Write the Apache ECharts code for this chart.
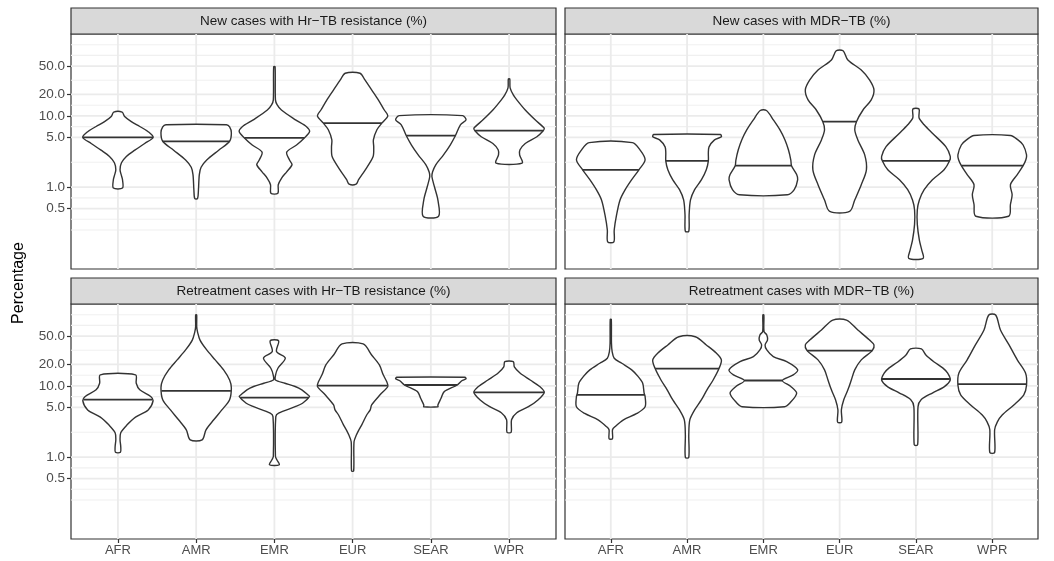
<!DOCTYPE html>
<html>
<head>
<meta charset="utf-8">
<script src="https://cdn.jsdelivr.net/npm/echarts@6/dist/echarts.min.js"></script>
<style>
  html, body { margin: 0; padding: 0; background: #fff; }
  #chart { width: 1054px; height: 561px; }
</style>
</head>
<body>
<div id="chart"></div>
<script>
// categories and facet titles
var regions = ['AFR', 'AMR', 'EMR', 'EUR', 'SEAR', 'WPR'];
var panelTitles = [
    'New cases with Hr\u2212TB resistance (%)',
    'New cases with MDR\u2212TB (%)',
    'Retreatment cases with Hr\u2212TB resistance (%)',
    'Retreatment cases with MDR\u2212TB (%)'
];
var tickValues = [0.5, 1, 5, 10, 20, 50];
var minorValues = [0.25, 0.354, 0.707, 2.236, 7.07, 14.14, 31.6, 70.7, 100];

// violin outlines: [percentage, relative half width], top to bottom
var hrNewShapes = [
    [[11.3,0.12],[9.8,0.19],[8.3,0.38],[7.1,0.62],[6.0,0.86],[5.0,1.0],[4.1,0.76],[3.3,0.48],[2.7,0.24],[2.2,0.1],[1.75,0.06],[1.45,0.1],[1.27,0.13],[0.97,0.13]],
    [[7.5,0.86],[7.0,0.95],[5.8,1.0],[4.4,0.95],[3.3,0.64],[2.4,0.3],[1.9,0.14],[1.5,0.09],[0.92,0.065],[0.69,0.04]],
    [[49,0.02],[16.8,0.03],[14.3,0.08],[12.1,0.2],[8.8,0.6],[7.0,0.92],[6.0,1.0],[4.9,0.85],[3.9,0.63],[3.1,0.35],[2.4,0.43],[2.06,0.5],[1.64,0.35],[1.35,0.21],[1.08,0.11],[0.82,0.1]],
    [[39.7,0.21],[32,0.35],[23.2,0.54],[16.8,0.73],[12.1,0.9],[10,1.0],[7.9,0.83],[6.4,0.69],[4.6,0.59],[3.65,0.6],[2.66,0.58],[1.75,0.36],[1.27,0.17],[1.1,0.1]],
    [[10.1,0.9],[8.8,1.0],[7.5,0.84],[5.3,0.7],[3.9,0.55],[2.84,0.36],[2.06,0.14],[1.64,0.05],[1.41,0.03],[1.02,0.1],[0.66,0.2],[0.39,0.22]],
    [[33,0.02],[24.7,0.03],[19.7,0.12],[16.8,0.22],[12.1,0.46],[8.8,0.74],[6.7,1.0],[6.2,0.97],[5.1,0.79],[4.1,0.46],[3.34,0.31],[2.84,0.3],[2.17,0.37]]
];
var hrNewMedians = [5.0, 4.4, 4.9, 7.9, 5.3, 6.2];

var mdrNewShapes = [
    [[4.22,0.63],[3.34,0.85],[2.42,1.0],[1.75,0.82],[1.27,0.61],[0.92,0.42],[0.66,0.27],[0.41,0.17],[0.25,0.1],[0.17,0.09]],
    [[5.47,0.97],[5.1,1.0],[4.6,0.8],[3.67,0.64],[3.03,0.62],[2.34,0.62],[1.75,0.56],[1.27,0.42],[0.92,0.22],[0.66,0.1],[0.41,0.06],[0.24,0.05]],
    [[11.9,0.09],[8.8,0.29],[6.4,0.48],[4.6,0.63],[3.34,0.73],[2.4,0.8],[2.0,0.82],[1.5,0.97],[1.27,1.0],[0.92,0.9],[0.78,0.7]],
    [[82,0.1],[61,0.24],[44,0.63],[32,0.87],[23.2,1.0],[16.8,0.92],[12.1,0.68],[8.3,0.49],[6.4,0.44],[4.6,0.53],[2.84,0.73],[1.75,0.78],[1.08,0.63],[0.66,0.44],[0.455,0.29]],
    [[12.5,0.09],[9.4,0.09],[7.5,0.24],[5.7,0.48],[3.7,0.87],[2.7,1.0],[2.34,0.98],[1.75,0.82],[1.27,0.48],[0.92,0.24],[0.66,0.1],[0.48,0.04],[0.3,0.04],[0.18,0.1],[0.13,0.17],[0.1,0.21]],
    [[5.3,0.53],[4.6,0.75],[3.9,0.9],[2.84,1.0],[2.42,0.98],[2.0,0.9],[1.5,0.73],[1.08,0.53],[0.78,0.58],[0.57,0.53],[0.39,0.48]]
];
var mdrNewMedians = [1.75, 2.34, 2.0, 8.3, 2.34, 2.0];

var hrRetShapes = [
    [[14.3,0.5],[10.9,0.52],[8.8,0.62],[7.1,0.93],[6.2,1.0],[4.6,0.86],[3.65,0.5],[2.84,0.26],[2.2,0.08],[1.75,0.06],[1.4,0.08],[1.17,0.07]],
    [[99,0.015],[68,0.015],[57,0.04],[44,0.11],[32,0.3],[23.2,0.54],[16.8,0.78],[12.1,0.95],[9.4,1.0],[6.4,0.95],[4.6,0.73],[3.34,0.5],[2.42,0.28],[1.75,0.17]],
    [[43,0.12],[30.3,0.06],[24.5,0.31],[17.7,0.1],[14,0.03],[12.1,0.03],[10.9,0.3],[9.8,0.59],[8.8,0.78],[7.5,0.95],[7.1,1.0],[5.7,0.8],[5.1,0.59],[4.14,0.12],[3.7,0.04],[1.02,0.03],[0.92,0.07],[0.78,0.14]],
    [[38.8,0.3],[27.2,0.54],[19.7,0.76],[14.3,0.87],[11.4,0.97],[9.8,1.0],[7.5,0.78],[5.4,0.54],[4.6,0.5],[3.9,0.4],[2.84,0.26],[2.42,0.18],[2.06,0.11],[1.64,0.04],[0.64,0.03]],
    [[13.2,0.97],[12.6,1.0],[11.8,0.88],[10.3,0.75],[8.3,0.38],[6.7,0.29],[5.4,0.2],[5.1,0.2]],
    [[21.9,0.12],[18.5,0.15],[15.2,0.31],[12.1,0.6],[9.7,0.88],[8.1,1.0],[6.4,0.83],[5.1,0.55],[4.2,0.22],[3.34,0.07],[2.24,0.06]]
];
var hrRetMedians = [6.4, 8.5, 6.85, 10.1, 10.3, 8.1];

var mdrRetShapes = [
    [[86,0.015],[40,0.02],[30.3,0.04],[24.5,0.1],[20.8,0.32],[16.8,0.61],[13.5,0.8],[10.9,0.93],[8.0,0.97],[7.1,1.0],[5.1,1.0],[4.1,0.76],[3.34,0.37],[2.69,0.13],[2.42,0.05],[1.81,0.05]],
    [[49,0.24],[37.6,0.56],[29,0.85],[23.2,1.0],[17.5,0.93],[12.1,0.76],[8.8,0.58],[6.4,0.42],[4.6,0.22],[3.34,0.08],[2.06,0.05],[0.99,0.05]],
    [[99,0.015],[58,0.02],[52,0.1],[44,0.12],[37.6,0.05],[32,0.1],[25.8,0.29],[21.9,0.68],[16.8,1.0],[14.3,0.87],[11.9,0.55],[9.8,0.8],[7.9,0.97],[5.8,0.78],[5.1,0.62]],
    [[84,0.2],[61,0.53],[44,0.87],[37.6,1.0],[31.3,0.95],[23.2,0.63],[16.8,0.44],[12.1,0.34],[8.8,0.24],[6.4,0.12],[4.6,0.05],[3.1,0.06]],
    [[33,0.16],[27.2,0.29],[21.7,0.53],[17.9,0.78],[15.2,0.92],[12.1,1.0],[9.7,0.82],[8.0,0.49],[6.4,0.15],[5.07,0.06],[1.49,0.05]],
    [[99,0.1],[61,0.24],[37.6,0.49],[23.2,0.73],[15.2,0.97],[10.3,1.0],[7.5,0.92],[5.4,0.63],[3.9,0.29],[3.13,0.15],[2.42,0.07],[1.16,0.07]]
];
var mdrRetMedians = [7.5, 17.5, 11.9, 31.3, 12.5, 10.6];

var panelShapes = [hrNewShapes, mdrNewShapes, hrRetShapes, mdrRetShapes];
var panelMedians = [hrNewMedians, mdrNewMedians, hrRetMedians, mdrRetMedians];

// layout of the four facets
var panels = [
    { left: 71, top: 34, width: 485, height: 235 },
    { left: 565, top: 34, width: 473, height: 235 },
    { left: 71, top: 304, width: 485, height: 235 },
    { left: 565, top: 304, width: 473, height: 235 }
];
var HALF = 0.45;
var FONT = 'Liberation Sans, Arial, sans-serif';

function lg(v) { return Math.log(v) / Math.LN10; }

function widthAt(profile, v) {
    var y = lg(v);
    for (var i = 0; i < profile.length - 1; i++) {
        var a = lg(profile[i][0]), b = lg(profile[i + 1][0]);
        if (y <= a && y >= b) {
            var t = (a - y) / (a - b);
            return profile[i][1] + t * (profile[i + 1][1] - profile[i][1]);
        }
    }
    return 0;
}

function violinRender(shapes) {
    return function (params, api) {
        var i = api.value(0);
        var med = api.value(1);
        var prof = shapes[i - 1];
        var left = [], right = [];
        prof.forEach(function (p) {
            left.push(api.coord([i - p[1] * HALF, lg(p[0])]));
            right.push(api.coord([i + p[1] * HALF, lg(p[0])]));
        });
        var pts = left.concat(right.reverse());
        var mw = widthAt(prof, med);
        var a = api.coord([i - mw * HALF, lg(med)]);
        var b = api.coord([i + mw * HALF, lg(med)]);
        return {
            type: 'group',
            children: [{
                type: 'polygon',
                shape: { points: pts, smooth: 0.3 },
                style: { fill: '#ffffff', stroke: '#333333', lineWidth: 1.4 }
            }, {
                type: 'line',
                shape: { x1: a[0], y1: a[1], x2: b[0], y2: b[1] },
                style: { stroke: '#333333', lineWidth: 1.8 }
            }]
        };
    };
}

function gridRender(params, api) {
    var cs = params.coordSys;
    var kind = api.value(0);
    var v = api.value(1);
    if (kind === 2) {
        var px = api.coord([v, 0])[0];
        return { type: 'line', shape: { x1: px, y1: cs.y, x2: px, y2: cs.y + cs.height },
            style: { stroke: '#ebebeb', lineWidth: 1.8 } };
    }
    var py = api.coord([1, lg(v)])[1];
    return { type: 'line', shape: { x1: cs.x, y1: py, x2: cs.x + cs.width, y2: py },
        style: { stroke: kind === 1 ? '#ebebeb' : '#f0f0f0', lineWidth: kind === 1 ? 1.8 : 1.1 } };
}

var gridData = [];
minorValues.forEach(function (v) { gridData.push([0, v]); });
tickValues.forEach(function (v) { gridData.push([1, v]); });
regions.forEach(function (r, k) { gridData.push([2, k + 1]); });

var option = {
    animation: false,
    backgroundColor: '#ffffff',
    grid: [], xAxis: [], yAxis: [], series: [], graphic: []
};

panels.forEach(function (p, k) {
    var isLeft = (k % 2 === 0), isBottom = (k >= 2);
    option.grid.push({ left: p.left, top: p.top, width: p.width, height: p.height,
        show: true, borderColor: '#333333', borderWidth: 1.2, backgroundColor: 'transparent' });
    option.xAxis.push({
        gridIndex: k, type: 'value', min: 0.4, max: 6.6,
        axisLine: { show: false, onZero: false },
        splitLine: { show: false },
        axisTick: { show: isBottom, customValues: [1, 2, 3, 4, 5, 6], length: 4,
            lineStyle: { color: '#333333', width: 1.2 } },
        axisLabel: { show: isBottom, customValues: [1, 2, 3, 4, 5, 6], margin: 5,
            color: '#4d4d4d', fontSize: 13, fontFamily: FONT,
            formatter: function (v) { return regions[Math.round(v) - 1]; } }
    });
    option.yAxis.push({
        gridIndex: k, type: 'value', min: -1.15, max: 2.15,
        axisLine: { show: false, onZero: false },
        splitLine: { show: false },
        axisTick: { show: isLeft, customValues: tickValues.map(lg), length: 4,
            lineStyle: { color: '#333333', width: 1.2 } },
        axisLabel: { show: isLeft, customValues: tickValues.map(lg), margin: 6,
            color: '#4d4d4d', fontSize: 13.5, fontFamily: FONT,
            formatter: function (v) { return Math.pow(10, v).toFixed(1); } }
    });
    option.series.push({
        type: 'custom', xAxisIndex: k, yAxisIndex: k, silent: true, z: 1,
        renderItem: gridRender, data: gridData
    });
    option.series.push({
        type: 'custom', xAxisIndex: k, yAxisIndex: k, silent: true, z: 2,
        renderItem: violinRender(panelShapes[k]),
        data: panelMedians[k].map(function (m, j) { return [j + 1, m]; })
    });
    option.graphic.push({
        type: 'rect', silent: true,
        shape: { x: p.left, y: p.top - 26, width: p.width, height: 26 },
        style: { fill: '#d9d9d9', stroke: '#333333', lineWidth: 1.2 }
    });
    option.graphic.push({
        type: 'text', silent: true,
        x: p.left + p.width / 2, y: p.top - 13,
        style: { text: panelTitles[k], align: 'center', verticalAlign: 'middle',
            fill: '#1a1a1a', font: '13.5px ' + FONT }
    });
});

option.graphic.push({
    type: 'text', silent: true, x: 19, y: 283, rotation: Math.PI / 2,
    style: { text: 'Percentage', align: 'center', verticalAlign: 'middle',
        fill: '#000000', font: '16px ' + FONT }
});

var chart = echarts.init(document.getElementById('chart'), null, { renderer: 'canvas' });
chart.setOption(option);
</script>
</body>
</html>
